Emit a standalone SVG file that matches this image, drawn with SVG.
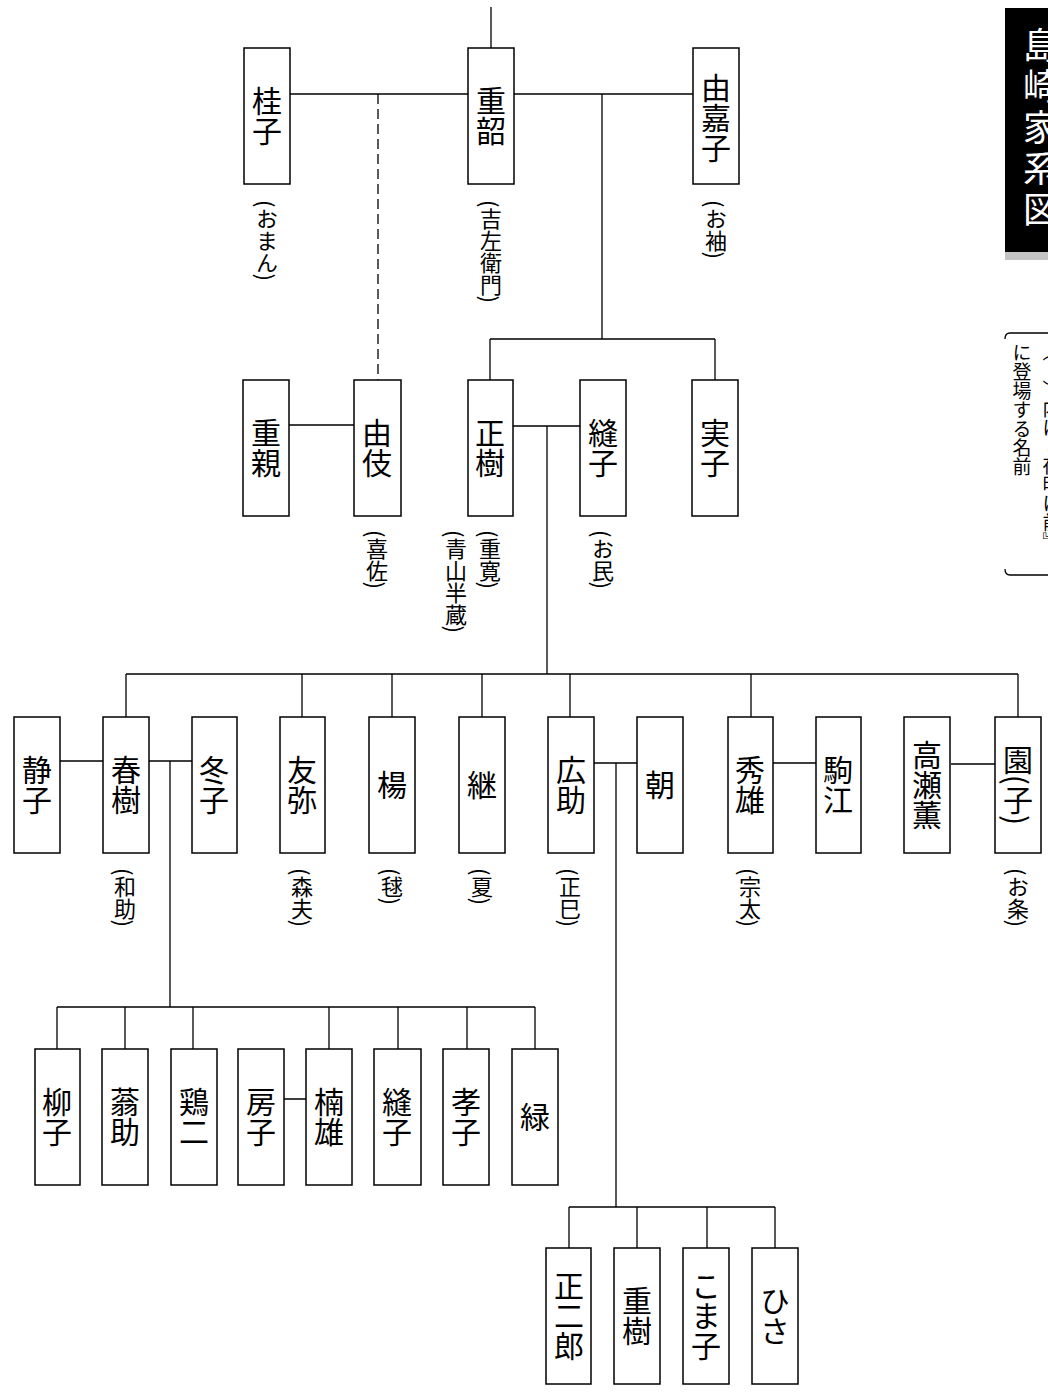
<svg xmlns="http://www.w3.org/2000/svg" width="1048" height="1393" viewBox="0 0 1048 1393">
<style>
.box{fill:#fff;stroke:#000;stroke-width:1.5}
.nm{font-family:"Noto Sans CJK JP","Noto Sans CJK SC",sans-serif;font-size:30px;writing-mode:vertical-rl;text-anchor:middle;fill:#000}
.sb{font-family:"Noto Sans CJK JP","Noto Sans CJK SC",sans-serif;font-size:22px;writing-mode:vertical-rl;text-anchor:start;fill:#000}
.ln{stroke:#000;stroke-width:1.3;fill:none}
.dash{stroke-dasharray:10 5}
.title{font-family:"Noto Sans CJK JP","Noto Sans CJK SC",sans-serif;font-size:36px;writing-mode:vertical-rl;text-anchor:middle;fill:#fff;letter-spacing:5px}
.note{font-family:"Noto Sans CJK JP","Noto Sans CJK SC",sans-serif;font-size:19px;writing-mode:vertical-rl;text-anchor:start;fill:#000}
</style>
<rect width="1048" height="1393" fill="#fff"/>
<g id="connectors">
<path class="ln" d="M491,7V48M290,94H468M514,94H693M602,94V339M490,339H715M490,339V380M715,339V380"/>
<path class="ln dash" d="M378,94V380"/>
<path class="ln" d="M289,425H354M513,426H580M547,426V674M126,674H1018"/>
<path class="ln" d="M126,674V717M302,674V717M392,674V717M482,674V717M570,674V717M751,674V717M1018,674V717"/>
<path class="ln" d="M60,761H103M149,761H192M170,761V1007M57,1007H535"/>
<path class="ln" d="M57,1007V1049M125,1007V1049M193,1007V1049M329,1007V1049M398,1007V1049M467,1007V1049M535,1007V1049M284,1099H306"/>
<path class="ln" d="M594,763H637M616,763V1207M569,1207H775M569,1207V1248M637,1207V1248M707,1207V1248M775,1207V1248M773,763H816M951,764H995"/>
</g>
<g id="title">
<rect x="1005" y="8" width="43" height="244" fill="#000"/>
<rect x="1005" y="252" width="43" height="8" fill="#c4c4c4"/>
<text class="title" x="1041" y="130">島崎家系図</text>
</g>
<g id="note">
<path class="ln" d="M1048,333H1010Q1005,333 1005,339M1048,575H1010Q1005,575 1005,569"/>
<text class="note" x="1052" y="342">（　）内は『夜明け前』</text>
<text class="note" x="1022" y="343">に登場する名前</text>
</g>
<g id="n-keiko"><rect class="box" x="244" y="48" width="46" height="136"/><text class="nm" x="267" y="116">桂子</text><text class="sb" x="267" y="200">(おまん)</text></g>
<g id="n-shigetsugu"><rect class="box" x="468" y="48" width="46" height="136"/><text class="nm" x="491" y="116">重韶</text><text class="sb" x="491" y="200">(吉左衛門)</text></g>
<g id="n-yukako"><rect class="box" x="693" y="48" width="46" height="136"/><text class="nm" x="716" y="118">由嘉子</text><text class="sb" x="716" y="200">(お袖)</text></g>
<g id="n-shigechika"><rect class="box" x="243" y="380" width="46" height="136"/><text class="nm" x="266" y="448">重親</text></g>
<g id="n-yuki"><rect class="box" x="354" y="380" width="47" height="136"/><text class="nm" x="377" y="448">由伎</text><text class="sb" x="377" y="530">(喜佐)</text></g>
<g id="n-masaki"><rect class="box" x="468" y="380" width="45" height="136"/><text class="nm" x="490" y="448">正樹</text><text class="sb" x="490" y="530">(重寛)</text><text class="sb" x="456" y="530">(青山半蔵)</text></g>
<g id="n-nuiko"><rect class="box" x="580" y="380" width="46" height="136"/><text class="nm" x="603" y="448">縫子</text><text class="sb" x="603" y="530">(お民)</text></g>
<g id="n-saneko"><rect class="box" x="692" y="380" width="46" height="136"/><text class="nm" x="715" y="448">実子</text></g>
<g id="n-shizuko"><rect class="box" x="14" y="717" width="46" height="136"/><text class="nm" x="37" y="785">静子</text></g>
<g id="n-haruki"><rect class="box" x="103" y="717" width="46" height="136"/><text class="nm" x="126" y="785">春樹</text><text class="sb" x="125" y="868">(和助)</text></g>
<g id="n-fuyuko"><rect class="box" x="192" y="717" width="45" height="136"/><text class="nm" x="214" y="785">冬子</text></g>
<g id="n-tomoya"><rect class="box" x="280" y="717" width="45" height="136"/><text class="nm" x="302" y="785">友弥</text><text class="sb" x="302" y="868">(森夫)</text></g>
<g id="n-yo"><rect class="box" x="369" y="717" width="46" height="136"/><text class="nm" x="392" y="785">楊</text><text class="sb" x="392" y="868">(毬)</text></g>
<g id="n-tsugi"><rect class="box" x="459" y="717" width="46" height="136"/><text class="nm" x="482" y="785">継</text><text class="sb" x="482" y="868">(夏)</text></g>
<g id="n-hirosuke"><rect class="box" x="548" y="717" width="46" height="136"/><text class="nm" x="571" y="785">広助</text><text class="sb" x="570" y="868">(正巳)</text></g>
<g id="n-asa"><rect class="box" x="637" y="717" width="46" height="136"/><text class="nm" x="660" y="785">朝</text></g>
<g id="n-hideo"><rect class="box" x="728" y="717" width="45" height="136"/><text class="nm" x="750" y="785">秀雄</text><text class="sb" x="750" y="868">(宗太)</text></g>
<g id="n-komae"><rect class="box" x="816" y="717" width="45" height="136"/><text class="nm" x="838" y="785">駒江</text></g>
<g id="n-takasekaoru"><rect class="box" x="904" y="717" width="46" height="136"/><text class="nm" x="927" y="785">高瀬薫</text></g>
<g id="n-sono"><rect class="box" x="995" y="717" width="46" height="136"/><text class="nm" x="1018" y="785">園(子)</text><text class="sb" x="1018" y="868">(お条)</text></g>
<g id="n-yanagiko"><rect class="box" x="35" y="1049" width="45" height="136"/><text class="nm" x="57" y="1117">柳子</text></g>
<g id="n-osuke"><rect class="box" x="102" y="1049" width="46" height="136"/><text class="nm" x="125" y="1117">蓊助</text></g>
<g id="n-keiji"><rect class="box" x="171" y="1049" width="46" height="136"/><text class="nm" x="194" y="1117">鶏二</text></g>
<g id="n-fusako"><rect class="box" x="238" y="1049" width="46" height="136"/><text class="nm" x="261" y="1117">房子</text></g>
<g id="n-kusuo"><rect class="box" x="306" y="1049" width="46" height="136"/><text class="nm" x="329" y="1117">楠雄</text></g>
<g id="n-nuiko2"><rect class="box" x="374" y="1049" width="47" height="136"/><text class="nm" x="397" y="1117">縫子</text></g>
<g id="n-takako"><rect class="box" x="443" y="1049" width="46" height="136"/><text class="nm" x="466" y="1117">孝子</text></g>
<g id="n-midori"><rect class="box" x="512" y="1049" width="46" height="136"/><text class="nm" x="535" y="1117">緑</text></g>
<g id="n-shojiro"><rect class="box" x="546" y="1248" width="45" height="136"/><text class="nm" x="569" y="1316">正二郎</text></g>
<g id="n-shigeki"><rect class="box" x="614" y="1248" width="46" height="136"/><text class="nm" x="637" y="1316">重樹</text></g>
<g id="n-komako"><rect class="box" x="683" y="1248" width="46" height="136"/><text class="nm" x="706" y="1316">こま子</text></g>
<g id="n-hisa"><rect class="box" x="752" y="1248" width="46" height="136"/><text class="nm" x="775" y="1316">ひさ</text></g>
</svg>
